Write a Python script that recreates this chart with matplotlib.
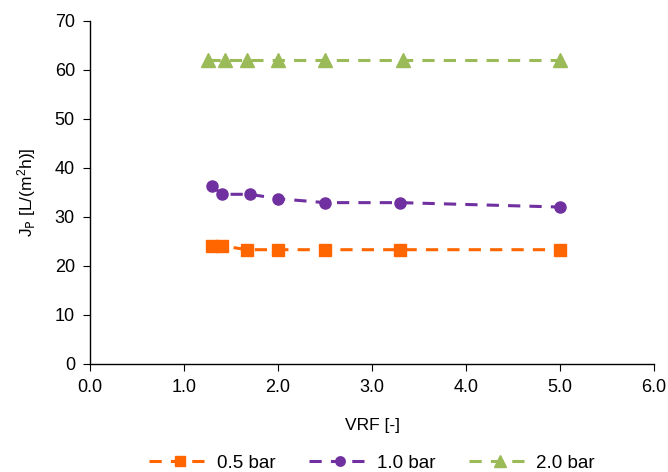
import matplotlib
matplotlib.use("Agg")
import matplotlib.pyplot as plt

plt.rcParams['font.family'] = ['Liberation Sans', 'DejaVu Sans']
plt.rcParams['mathtext.default'] = 'regular'

vrf_05 = [1.30, 1.40, 1.67, 2.0, 2.5, 3.3, 5.0]
jp_05 = [24.1, 24.1, 23.3, 23.3, 23.3, 23.3, 23.3]
vrf_10 = [1.30, 1.40, 1.70, 2.0, 2.5, 3.3, 5.0]
jp_10 = [36.3, 34.6, 34.6, 33.7, 32.9, 32.9, 32.0]
vrf_20 = [1.25, 1.43, 1.67, 2.0, 2.5, 3.33, 5.0]
jp_20 = [62.0, 62.0, 62.0, 62.0, 62.0, 62.0, 62.0]
labels = ['0.5 bar', '1.0 bar', '2.0 bar']

fig = plt.figure(figsize=(6.68, 4.72), dpi=100)
ax = fig.add_axes([0.135, 0.229, 0.844, 0.727])

ax.plot(vrf_05, jp_05, linestyle=(0, (4, 3)), color='#FF6600', lw=2.2,
        marker='s', ms=8, label=labels[0])
ax.plot(vrf_10, jp_10, linestyle=(0, (4, 3)), color='#7030A0', lw=2.2,
        marker='o', ms=8, label=labels[1])
ax.plot(vrf_20, jp_20, linestyle=(0, (4, 3)), color='#9BBB59', lw=2.2,
        marker='^', ms=10, label=labels[2])

ax.set_xlim(0, 6)
ax.set_ylim(0, 70)
ax.set_xticks([0, 1, 2, 3, 4, 5, 6])
ax.set_xticklabels([f"{v:.1f}" for v in [0, 1, 2, 3, 4, 5, 6]])
ax.set_yticks(range(0, 71, 10))
for s in ['top', 'right']:
    ax.spines[s].set_visible(False)
for s in ['left', 'bottom']:
    ax.spines[s].set_linewidth(1.0)
ax.tick_params(direction='out', length=5, labelsize=13, pad=6)
ax.set_xlabel('VRF [-]', fontsize=12.5, labelpad=16)
ax.set_ylabel(r'J$_\mathrm{P}$ [L/(m$^2$h)]', fontsize=12.5, labelpad=12)

ax.legend(loc='upper center', bbox_to_anchor=(0.50, -0.215), ncol=3,
          frameon=False, fontsize=13.5, handlelength=3.3, columnspacing=1.8,
          handletextpad=0.3, markerscale=0.85)

fig.savefig('out.png', dpi=100)
